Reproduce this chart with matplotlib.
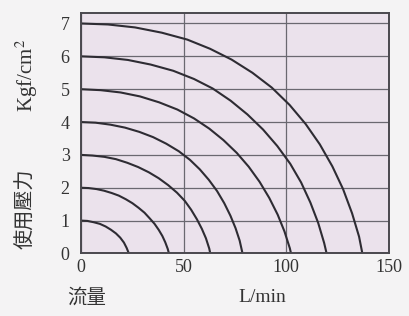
import matplotlib
matplotlib.use("Agg")
import matplotlib.pyplot as plt

plt.rcParams['mathtext.fontset'] = 'stix'

# flow (L/min) / pressure (Kgf/cm2) points
q1 = [0, 3.2, 6.3, 9.3, 12.1, 14.7, 17.1, 19.2, 21.0, 22.3, 23.4]
p1 = [1, 0.99, 0.95, 0.90, 0.82, 0.72, 0.61, 0.48, 0.33, 0.17, 0]

q2 = [0, 3.8, 7.6, 11.3, 15.0, 18.5, 21.9, 25.1, 28.1, 31.0, 33.5, 35.9, 37.9, 39.7, 41.1, 42.3, 42.9]
p2 = [2, 1.99, 1.96, 1.91, 1.84, 1.76, 1.65, 1.53, 1.39, 1.24, 1.07, 0.90, 0.72, 0.53, 0.34, 0.14, 0]

q3 = [0, 5.7, 11.5, 17.1, 22.6, 27.9, 33.1, 37.9, 42.5, 46.8, 50.6, 53.7, 56.5, 58.9, 60.9, 62.5, 63.0]
p3 = [3, 2.98, 2.94, 2.87, 2.76, 2.63, 2.47, 2.29, 2.08, 1.85, 1.60, 1.33, 1.04, 0.75, 0.46, 0.15, 0]

q4 = [0, 7.2, 14.4, 21.5, 28.5, 35.2, 41.6, 47.7, 53.1, 57.9, 62.3, 66.3, 69.8, 72.8, 75.3, 77.3, 78.7]
p4 = [4, 3.98, 3.92, 3.83, 3.70, 3.54, 3.34, 3.11, 2.85, 2.56, 2.24, 1.90, 1.53, 1.15, 0.77, 0.39, 0]

q5 = [0, 9.7, 19.4, 28.8, 38.1, 47.0, 55.1, 62.5, 69.4, 75.9, 81.7, 87.0, 91.7, 95.8, 99.1, 101.7, 102.3]
p5 = [5, 4.97, 4.90, 4.78, 4.60, 4.38, 4.11, 3.80, 3.45, 3.06, 2.64, 2.18, 1.69, 1.18, 0.67, 0.16, 0]

q6 = [0, 11.5, 22.9, 34.0, 45.0, 55.1, 64.2, 72.9, 81.1, 88.7, 95.6, 101.9, 107.2, 111.7, 115.5, 118.4, 119.6]
p6 = [6, 5.97, 5.89, 5.75, 5.56, 5.31, 5.02, 4.65, 4.23, 3.77, 3.27, 2.73, 2.16, 1.55, 0.93, 0.32, 0]

q7 = [0, 13.2, 26.4, 39.4, 51.8, 62.9, 73.4, 83.5, 92.9, 101.6, 109.4, 116.3, 122.4, 127.6, 132.0, 135.4, 137.0]
p7 = [7, 6.97, 6.88, 6.72, 6.51, 6.23, 5.90, 5.50, 5.05, 4.52, 3.94, 3.32, 2.65, 1.96, 1.22, 0.51, 0]

curves = [(q1, p1), (q2, p2), (q3, p3), (q4, p4), (q5, p5), (q6, p6), (q7, p7)]

xticks = [0, 50, 100, 150]
yticks = [0, 1, 2, 3, 4, 5, 6, 7]

fig = plt.figure(figsize=(4.1, 3.16), dpi=100)
fig.patch.set_facecolor('#f4f3f4')
ax = fig.add_axes([0.197, 0.198, 0.752, 0.762])
ax.set_facecolor('#ebe2ec')

for q, p in curves:
    ax.plot(q, p, color='#2e2c33', lw=1.5, solid_joinstyle='round')

ax.set_xlim(0, 150)
ax.set_ylim(0, 7.33)
ax.set_xticks(xticks)
ax.set_yticks(yticks)
ax.grid(True, color='#6a6870', lw=0.9)
ax.set_axisbelow(True)
for s in ax.spines.values():
    s.set_color('#4a484e')
    s.set_linewidth(1.4)

ax.tick_params(length=0, pad=4, labelsize=13, labelcolor='#333333')
for lab in ax.get_xticklabels() + ax.get_yticklabels():
    lab.set_fontfamily('Liberation Serif')
ax.tick_params(axis='y', pad=8)

fig.text(0.066, 0.76, 'Kgf/cm$^{2}$', rotation=90, ha='center', va='center',
         fontsize=15, family='Liberation Serif', color='#333333')
fig.text(0.062, 0.339, '使用壓力', rotation=90, ha='center', va='center',
         fontsize=14.5, family=['Noto Sans CJK TC', 'DejaVu Sans'], color='#333333')
fig.text(0.212, 0.06, '流量', ha='center', va='center',
         fontsize=14, family=['Noto Sans CJK TC', 'DejaVu Sans'], color='#333333')
fig.text(0.64, 0.06, 'L/min', ha='center', va='center',
         fontsize=14, family='Liberation Serif', color='#333333')

fig.savefig('out.png', dpi=100, facecolor=fig.get_facecolor())
